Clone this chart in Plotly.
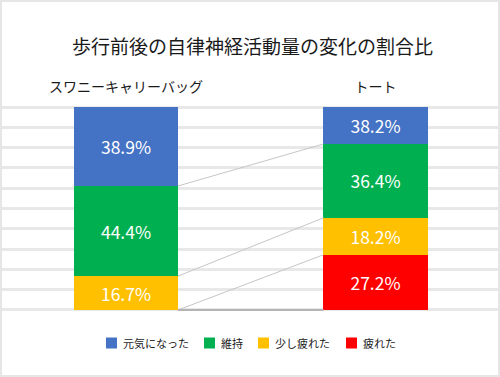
import plotly.graph_objects as go

W, H = 500, 377

title_text = "歩行前後の自律神経活動量の変化の割合比"
categories = ["スワニーキャリーバッグ", "トート"]

series_names = ["疲れた", "少し疲れた", "維持", "元気になった"]   # bottom -> top
series_colors = ["#FF0000", "#FFC000", "#00B050", "#4472C4"]
tired = [0.0, 27.2]
slightly_tired = [16.7, 18.2]
maintained = [44.4, 36.4]
energized = [38.9, 18.2]
tired_labels = ["", "27.2%"]
slightly_tired_labels = ["16.7%", "18.2%"]
maintained_labels = ["44.4%", "36.4%"]
energized_labels = ["38.9%", "38.2%"]

legend_order = ["元気になった", "維持", "少し疲れた", "疲れた"]

values = [tired, slightly_tired, maintained, energized]
labels = [tired_labels, slightly_tired_labels, maintained_labels, energized_labels]

FONT = "Noto Sans CJK JP, Noto Sans, sans-serif"
BAR_W = 0.417

fig = go.Figure()
xs = [0, 1]
for name, col, vals, labs in zip(series_names, series_colors, values, labels):
    fig.add_trace(go.Bar(
        x=xs, y=vals, name=name, marker=dict(color=col, line=dict(width=0)),
        width=BAR_W, text=labs, textposition="inside", insidetextanchor="middle",
        textfont=dict(color="white", size=17.5, family=FONT), constraintext="none",
        showlegend=False, hoverinfo="skip"))

# series connector lines (top of each cumulative series except the full one)
cum = [0.0, 0.0]
for i, vals in enumerate(values[:-1]):
    cum = [cum[0] + vals[0], cum[1] + vals[1]]
    fig.add_trace(go.Scatter(
        x=[0 + BAR_W / 2, 1 - BAR_W / 2], y=cum, mode="lines",
        line=dict(color="#c6c6c6", width=1), showlegend=False, hoverinfo="skip"))
# bottom line between bars
fig.add_trace(go.Scatter(
    x=[0 + BAR_W / 2, 1 - BAR_W / 2], y=[0, 0], mode="lines",
    line=dict(color="#b4b4b4", width=2), showlegend=False, hoverinfo="skip"))

shapes = [dict(type="rect", xref="paper", yref="paper", x0=0, y0=0, x1=1, y1=1,
               line=dict(color="#e6e6e6", width=4), layer="above")]
annotations = [dict(text=title_text, x=252 / W, y=1 - 45 / H, xref="paper", yref="paper",
                    showarrow=False, xanchor="center", yanchor="middle",
                    font=dict(size=19, color="#1a1a1a", family=FONT))]

# manual legend
leg_sq_x = [106, 204, 258, 346]
leg_colors = ["#4472C4", "#00B050", "#FFC000", "#FF0000"]
ly = 343
for name, sx, col in zip(legend_order, leg_sq_x, leg_colors):
    shapes.append(dict(type="rect", xref="paper", yref="paper",
                       x0=sx / W, x1=(sx + 11) / W, y0=1 - (ly + 5.5) / H, y1=1 - (ly - 5.5) / H,
                       fillcolor=col, line=dict(width=0)))
    annotations.append(dict(text=name, x=(sx + 15) / W, y=1 - ly / H, xref="paper", yref="paper",
                            showarrow=False, xanchor="left", yanchor="middle",
                            font=dict(size=11, color="#1a1a1a", family=FONT)))

fig.update_layout(
    width=W, height=H, margin=dict(l=0, r=0, t=0, b=0),
    paper_bgcolor="white", plot_bgcolor="white",
    barmode="stack", bargap=0,
    shapes=shapes, annotations=annotations,
    xaxis=dict(domain=[2 / W, 498 / W], range=[-0.497, 1.491], tickmode="array",
               tickvals=xs, ticktext=categories, side="top", showgrid=False, zeroline=False,
               showline=False, ticks="", ticklabelstandoff=10,
               tickfont=dict(size=14, color="#1a1a1a", family=FONT)),
    yaxis=dict(domain=[(H - 311) / H, (H - 106) / H], range=[-0.5, 100.5], tick0=0, dtick=10,
               showgrid=True, gridcolor="#e8e8e8", gridwidth=3, zeroline=False,
               showticklabels=False, showline=False, ticks=""),
    font=dict(family=FONT),
    hovermode=False,
)

fig.write_html("out.html", config={"displayModeBar": False, "staticPlot": True},
               post_script="document.body.style.margin='0px';document.body.style.overflow='hidden';")
